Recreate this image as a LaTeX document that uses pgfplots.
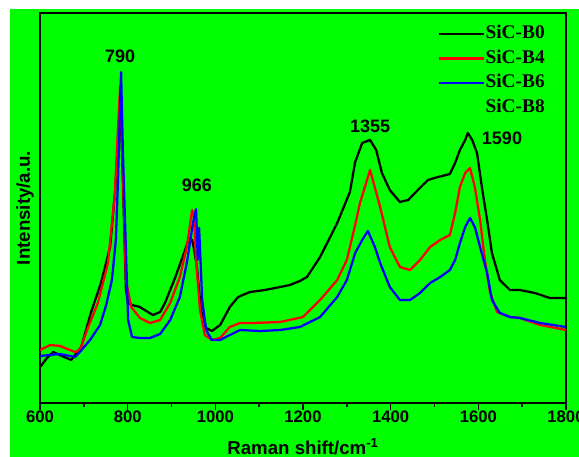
\documentclass[border=0pt]{standalone}
\usepackage{fontspec}
\setmainfont{Liberation Sans}
\newfontfamily\serifb{Liberation Serif}
\usepackage{pgfplots}
\pgfplotsset{compat=1.18}
\definecolor{bggreen}{RGB}{0,255,0}
\definecolor{pred}{RGB}{255,0,0}
\definecolor{pblue}{RGB}{0,0,255}

\begin{document}
\begin{tikzpicture}
% page is 579x457 px, 1px = 0.75pt
\useasboundingbox (0,0) rectangle (434.25pt,342.75pt);
\fill[bggreen] (7.5pt,0) rectangle (434.25pt,336pt);
\begin{axis}[
  scale only axis, width=394.5pt, height=292.5pt,
  at={(30pt,40.5pt)}, anchor=south west,
  xmin=600, xmax=1800, ymin=0, ymax=390,
  xtick={600,800,...,1800}, minor x tick num=1,
  ytick=\empty, xtick pos=left, tick align=outside,
  major tick length=5pt, minor tick length=3pt,
  every tick/.style={black, line width=1.2pt},
  axis line style={line width=1.5pt},
  /pgf/number format/assume math mode=true,
  /pgf/number format/1000 sep={},
  xticklabel style={font=\bfseries\fontsize{12.5}{12.5}\selectfont, inner sep=1pt},
  xlabel={Raman shift/cm\textsuperscript{-1}},
  xlabel style={font=\bfseries\fontsize{14}{14}\selectfont, at={(axis description cs:0.5,0)}, anchor=center, yshift=-33pt},
  ylabel={Intensity/a.u.},
  ylabel style={font=\bfseries\fontsize{14}{14}\selectfont, at={(axis description cs:-0.0285,0.5)}, anchor=center},
  legend cell align=left,
  legend style={draw=none, fill=none, inner sep=0pt, outer sep=0pt,
    at={(rel axis cs:0.7567,0.969)}, anchor=north west,
    font=\serifb\bfseries\fontsize{14.5}{14.5}\selectfont,
    row sep=5.5pt,
    nodes={inner sep=0pt, text height=10pt, text depth=3pt, xshift=9pt}},
  legend image code/.code={\draw[#1, line width=1.7pt] (0pt,0pt) -- (34pt,0pt);},
  every axis plot/.append style={line width=1.7pt, line join=round},
  clip=true,
]
% SiC-B0
\addplot[black] coordinates {
(600,36)(616,45)(630,51)(650,47)(671,43)(694,56)(716,90)(739,120)(760,156)
(771,210)(778,260)(783,303)(789,223)(796,113)(801,100)(810,98)(828,96)
(846,91)(858,88)(874,91)(885,100)(908,125)(931,153)(940,165)(947,163)
(951,155)(958,136)(965,103)(970,86)(979,75)(992,72)(1011,78)(1033,96)
(1052,106)(1079,111)(1113,113)(1148,116)(1170,118)(1193,122)(1209,126)
(1239,146)(1262,166)(1278,180)(1307,211)(1319,241)(1335,260)(1353,263)
(1367,253)(1380,230)(1398,213)(1421,201)(1440,203)(1462,213)(1485,223)
(1508,226)(1535,229)(1547,240)(1558,253)(1570,263)(1576,270)(1586,263)
(1597,250)(1608,216)(1620,183)(1631,150)(1649,123)(1672,113)(1695,113)
(1729,110)(1763,105)(1800,105)};
\addlegendentry{SiC-B0}
% SiC-B4
\addplot[pred] coordinates {
(600,53)(623,58)(646,57)(668,53)(680,51)(691,53)(710,76)(732,100)(755,140)
(771,210)(778,276)(783,318)(789,233)(796,123)(808,96)(828,85)(851,80)
(874,83)(897,100)(919,126)(935,156)(947,193)(951,188)(956,143)(965,93)
(976,68)(992,63)(1011,65)(1033,76)(1056,80)(1086,80)(1148,81)(1200,86)
(1239,103)(1278,123)(1300,143)(1319,178)(1330,200)(1353,233)(1376,196)
(1398,156)(1421,136)(1444,133)(1467,143)(1490,156)(1513,163)(1535,168)
(1547,190)(1558,216)(1570,230)(1581,235)(1592,216)(1604,183)(1615,143)
(1627,110)(1643,91)(1672,86)(1695,85)(1741,78)(1800,73)};
\addlegendentry{SiC-B4}
% SiC-B6
\addplot[pblue] coordinates {
(600,47)(646,49)(680,46)(691,51)(714,63)(737,78)(751,98)(764,123)(773,163)
(778,223)(783,303)(785,331)(789,253)(796,153)(801,83)(810,66)(828,65)
(851,65)(874,69)(897,83)(919,106)(935,140)(949,180)(956,194)(960,143)
(963,175)(970,103)(979,73)(992,63)(1011,63)(1033,68)(1056,73)(1102,72)
(1148,73)(1193,76)(1239,86)(1278,106)(1300,123)(1319,150)(1335,163)
(1348,172)(1364,156)(1376,140)(1398,116)(1421,103)(1444,103)(1467,110)
(1490,120)(1513,126)(1535,133)(1547,143)(1558,160)(1570,176)(1581,185)
(1592,176)(1604,156)(1620,130)(1631,103)(1649,90)(1672,86)(1695,85)
(1741,80)(1800,76)};
\addlegendentry{SiC-B6}
\addlegendimage{bggreen}
\addlegendentry{SiC-B8}
\node[font=\bfseries\fontsize{13.5}{13.5}\selectfont] at (axis cs:783,347) {790};
\node[font=\bfseries\fontsize{13.5}{13.5}\selectfont] at (axis cs:958,218) {966};
\node[font=\bfseries\fontsize{13.5}{13.5}\selectfont] at (axis cs:1353,277) {1355};
\node[font=\bfseries\fontsize{13.5}{13.5}\selectfont] at (axis cs:1654,265) {1590};
\end{axis}
\end{tikzpicture}
\end{document}
